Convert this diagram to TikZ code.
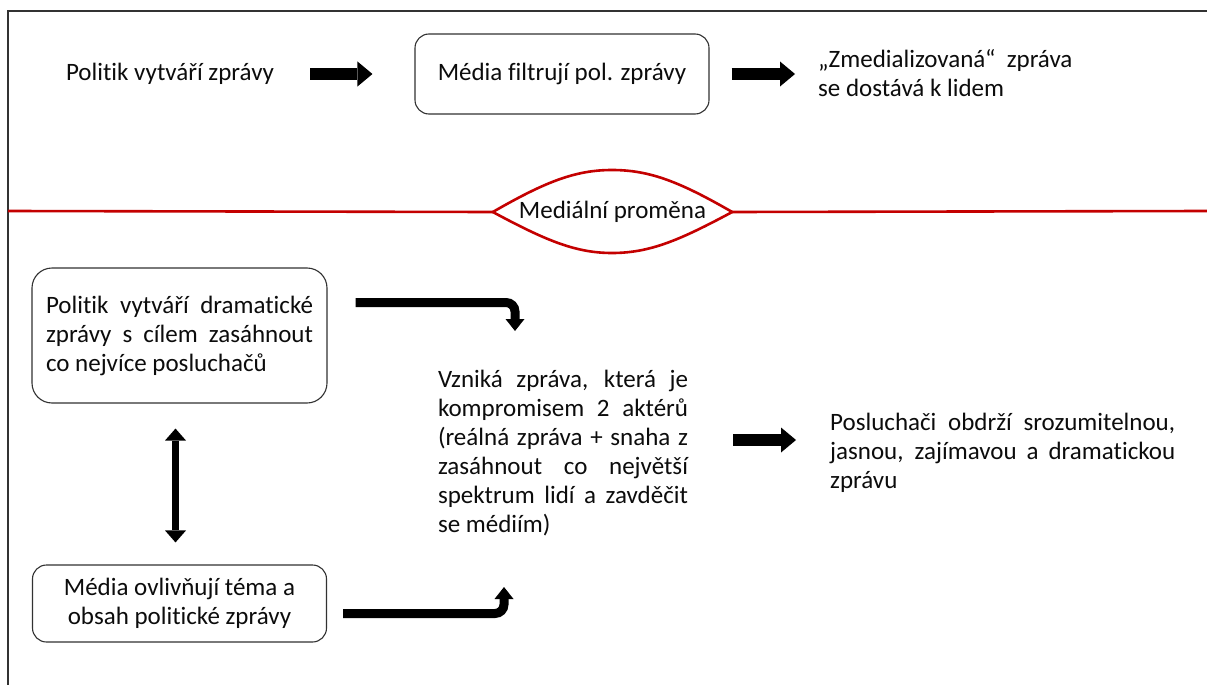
\documentclass[tikz,border=0pt]{standalone}
\usepackage{fontspec}
\setmainfont{Carlito}[Ligatures=NoCommon]
\usetikzlibrary{arrows.meta}
\definecolor{redline}{RGB}{196,0,0}
\definecolor{ink}{RGB}{12,12,12}
\definecolor{edge}{RGB}{50,50,50}
\hyphenpenalty=10000
\exhyphenpenalty=10000
\begin{document}
\begin{tikzpicture}[x=1pt,y=-1pt,
  txt/.style={font=\fontsize{25}{29}\selectfont, text=ink, inner sep=0pt},
  rbox/.style={txt, draw=edge, line width=1.1pt, rounded corners=14pt},
  blockarrow/.style={black, line width=12pt, -{Triangle[width=25pt,length=15pt,line width=0pt]}},
  bentarrow/.style={black, line width=9pt, rounded corners=9pt, -{Triangle[width=19pt,length=12pt,line width=0pt]}},
  dblarrow/.style={black, line width=7pt, {Triangle[width=21pt,length=12pt,line width=0pt]}-{Triangle[width=21pt,length=12pt,line width=0pt]}},
  lensline/.style={redline, line width=2.6pt, line join=round}
]
\useasboundingbox (0,0) rectangle (1207,685);
\fill[white] (0,0) rectangle (1207,685);
\draw[edge, line width=1.3pt] (1207,11) -- (8,11) -- (8,685);

% top row
\node[txt] (t1) at (170,74) {Politik vytváří zprávy};
\node[rbox, minimum width=294pt, minimum height=80pt] (b1) at (562,74) {Média filtrují pol. zprávy};
\node[txt, anchor=west, align=left] (t3) at (818,73) {„Zmedializovaná“~ zpráva\\se dostává k lidem};
\draw[blockarrow] ([xshift=36pt]t1.east) -- ([xshift=-42pt]b1.west);
\draw[blockarrow] ([xshift=22pt]b1.east) -- ([xshift=-23pt]t3.west |- b1.east);

% divider
\node[txt, minimum width=239pt, minimum height=20pt] (lens) at (612.5,212) {Mediální proměna};
\draw[lensline] (8,211) -- (lens.west);
\draw[lensline] (lens.east) -- (1207,211);
\draw[lensline] (lens.west) .. controls (545,182) and (575,170) .. (612,170)
  .. controls (650,170) and (680,182) .. (lens.east)
  .. controls (680,240) and (650,253) .. (612,253)
  .. controls (575,253) and (545,240) .. (lens.west) -- cycle;

% bottom part
\node[rbox, rounded corners=20pt, minimum width=295pt, minimum height=135pt, text width=267pt, align=justify] (bA) at (179.5,335.5)
  {Politik vytváří dramatické\linebreak zprávy s cílem zasáhnout\linebreak co nejvíce posluchačů};
\node[rbox, minimum width=294pt, minimum height=77pt, align=center] (bB) at (179.5,603.5)
  {Média ovlivňují téma a\\obsah politické zprávy};
\node[txt, text width=250pt, align=justify] (mid) at (563,453)
  {Vzniká zpráva, která je\linebreak kompromisem 2 aktérů\linebreak (reálná zpráva + snaha z\linebreak zasáhnout co největší\linebreak spektrum lidí a zavděčit\linebreak se médiím)};
\node[txt, text width=345pt, align=justify, anchor=west] (right) at (830,453)
  {Posluchači obdrží srozumitelnou,\linebreak jasnou, zajímavou a dramatickou\linebreak zprávu};

\draw[dblarrow] ([xshift=-4pt,yshift=-25pt]bA.south) -- ([xshift=-4pt,yshift=22pt]bB.north);

\coordinate (b1s) at ([xshift=28pt,yshift=33pt]bA.east);
\coordinate (b1e) at (515,331);
\draw[bentarrow] (b1s) -| (b1e);

\coordinate (b2s) at ([xshift=16pt,yshift=-10pt]bB.east);
\coordinate (b2e) at (504,587);
\draw[bentarrow] (b2s) -| (b2e);

\draw[blockarrow] ([xshift=45pt,yshift=13pt]mid.east) -- ([xshift=-34pt,yshift=13pt]right.west);
\end{tikzpicture}
\end{document}
